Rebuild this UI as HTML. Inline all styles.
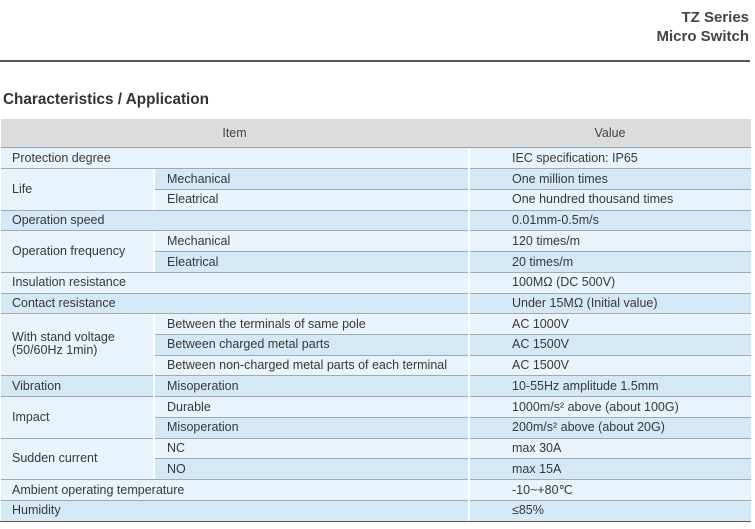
<!DOCTYPE html>
<html><head><meta charset="utf-8">
<style>
html,body{margin:0;padding:0;background:#fff;}
body{width:755px;height:529px;position:relative;overflow:hidden;font-family:"Liberation Sans",sans-serif;color:#3a3a3a;}
.a{position:absolute;}
.t{position:absolute;font-size:12.5px;white-space:nowrap;height:20.72px;line-height:20.72px;color:#383838;}
.L{background:#e9f3fb;}
.B{background:#d4e8f6;}
.h{position:absolute;height:1px;background:#9fabb4;}
.v{position:absolute;background:#ffffff;}
</style></head><body>
<div class="a" style="right:6px;top:10px;font-size:15px;font-weight:bold;color:#444;line-height:15px;text-align:right;">TZ Series</div>
<div class="a" style="right:6px;top:29px;font-size:15px;font-weight:bold;color:#444;line-height:15px;text-align:right;">Micro Switch</div>
<div class="a" style="left:0;top:60px;width:750px;height:1.6px;background:#555;"></div>
<div class="a" style="left:3px;top:91px;font-size:15.3px;font-weight:bold;color:#333;line-height:18px;white-space:nowrap;">Characteristics / Application</div>

<!-- header -->
<div class="a" style="left:1px;top:119px;width:750px;height:29px;background:#dcdcdc;"></div>
<div class="a" style="left:1px;top:147px;width:750px;height:1px;background:#a3a3a3;"></div>
<div class="a" style="left:1px;top:119px;width:467px;height:28px;line-height:28px;text-align:center;font-size:12.5px;color:#444;">Item</div>
<div class="a" style="left:469px;top:119px;width:282px;height:28px;line-height:28px;text-align:center;font-size:12.5px;color:#444;">Value</div>

<!-- row backgrounds -->
<div class="a L" style="left:1px;top:148px;width:750px;height:20.72px"></div>
<div class="a B" style="left:1px;top:168.72px;width:750px;height:20.72px"></div>
<div class="a L" style="left:1px;top:189.44px;width:750px;height:20.72px"></div>
<div class="a B" style="left:1px;top:210.16px;width:750px;height:20.72px"></div>
<div class="a L" style="left:1px;top:230.88px;width:750px;height:20.72px"></div>
<div class="a B" style="left:1px;top:251.6px;width:750px;height:20.72px"></div>
<div class="a L" style="left:1px;top:272.32px;width:750px;height:20.72px"></div>
<div class="a B" style="left:1px;top:293.04px;width:750px;height:20.72px"></div>
<div class="a L" style="left:1px;top:313.76px;width:750px;height:20.72px"></div>
<div class="a B" style="left:1px;top:334.48px;width:750px;height:20.72px"></div>
<div class="a L" style="left:1px;top:355.2px;width:750px;height:20.72px"></div>
<div class="a B" style="left:1px;top:375.92px;width:750px;height:20.72px"></div>
<div class="a L" style="left:1px;top:396.64px;width:750px;height:20.72px"></div>
<div class="a B" style="left:1px;top:417.36px;width:750px;height:20.72px"></div>
<div class="a L" style="left:1px;top:438.08px;width:750px;height:20.72px"></div>
<div class="a B" style="left:1px;top:458.8px;width:750px;height:20.72px"></div>
<div class="a L" style="left:1px;top:479.52px;width:750px;height:20.72px"></div>
<div class="a B" style="left:1px;top:500.24px;width:750px;height:20.72px"></div>

<!-- merged cells (light) -->
<div class="a L" style="left:1px;top:168.72px;width:152px;height:41.44px"></div>
<div class="a L" style="left:1px;top:230.88px;width:152px;height:41.44px"></div>
<div class="a L" style="left:1px;top:313.76px;width:152px;height:62.16px"></div>
<div class="a L" style="left:1px;top:396.64px;width:152px;height:41.44px"></div>
<div class="a L" style="left:1px;top:438.08px;width:152px;height:41.44px"></div>

<!-- horizontal lines -->
<div class="h" style="left:1px;width:750px;top:168.2px"></div>
<div class="h" style="left:154px;width:597px;top:188.9px"></div>
<div class="h" style="left:1px;width:750px;top:209.6px"></div>
<div class="h" style="left:1px;width:750px;top:230.4px"></div>
<div class="h" style="left:154px;width:597px;top:251.1px"></div>
<div class="h" style="left:1px;width:750px;top:271.8px"></div>
<div class="h" style="left:1px;width:750px;top:292.5px"></div>
<div class="h" style="left:1px;width:750px;top:313.3px"></div>
<div class="h" style="left:154px;width:597px;top:334px"></div>
<div class="h" style="left:154px;width:597px;top:354.7px"></div>
<div class="h" style="left:1px;width:750px;top:375.4px"></div>
<div class="h" style="left:1px;width:750px;top:396.1px"></div>
<div class="h" style="left:154px;width:597px;top:416.9px"></div>
<div class="h" style="left:1px;width:750px;top:437.6px"></div>
<div class="h" style="left:154px;width:597px;top:458.3px"></div>
<div class="h" style="left:1px;width:750px;top:479px"></div>
<div class="h" style="left:1px;width:750px;top:499.7px"></div>

<!-- vertical white lines -->
<div class="v" style="left:468px;top:148px;width:2px;height:373px"></div>
<div class="v" style="left:153px;top:169px;width:1.5px;height:41px"></div>
<div class="v" style="left:153px;top:231px;width:1.5px;height:41px"></div>
<div class="v" style="left:153px;top:314px;width:1.5px;height:165px"></div>

<!-- bottom border -->
<div class="a" style="left:0;top:520.5px;width:751px;height:1.6px;background:#555;"></div>

<!-- left column text -->
<div class="t" style="left:12px;top:148px">Protection degree</div>
<div class="t" style="left:12px;top:179.08px">Life</div>
<div class="t" style="left:12px;top:210.16px">Operation speed</div>
<div class="t" style="left:12px;top:241.24px">Operation frequency</div>
<div class="t" style="left:12px;top:272.32px">Insulation resistance</div>
<div class="t" style="left:12px;top:293.04px">Contact resistance</div>
<div class="a" style="left:12px;top:331px;font-size:12.5px;line-height:13px;white-space:nowrap;color:#383838;">With stand voltage<br>(50/60Hz 1min)</div>
<div class="t" style="left:12px;top:375.92px">Vibration</div>
<div class="t" style="left:12px;top:407px">Impact</div>
<div class="t" style="left:12px;top:448.44px">Sudden current</div>
<div class="t" style="left:12px;top:479.52px">Ambient operating temperature</div>
<div class="t" style="left:12px;top:500.24px">Humidity</div>

<!-- sub column text -->
<div class="t" style="left:167px;top:168.72px">Mechanical</div>
<div class="t" style="left:167px;top:189.44px">Eleatrical</div>
<div class="t" style="left:167px;top:230.88px">Mechanical</div>
<div class="t" style="left:167px;top:251.6px">Eleatrical</div>
<div class="t" style="left:167px;top:313.76px">Between the terminals of same pole</div>
<div class="t" style="left:167px;top:334.48px">Between charged metal parts</div>
<div class="t" style="left:167px;top:355.2px">Between non-charged metal parts of each terminal</div>
<div class="t" style="left:167px;top:375.92px">Misoperation</div>
<div class="t" style="left:167px;top:396.64px">Durable</div>
<div class="t" style="left:167px;top:417.36px">Misoperation</div>
<div class="t" style="left:167px;top:438.08px">NC</div>
<div class="t" style="left:167px;top:458.8px">NO</div>

<!-- value text -->
<div class="t" style="left:512px;top:148px">IEC specification: IP65</div>
<div class="t" style="left:512px;top:168.72px">One million times</div>
<div class="t" style="left:512px;top:189.44px">One hundred thousand times</div>
<div class="t" style="left:512px;top:210.16px">0.01mm-0.5m/s</div>
<div class="t" style="left:512px;top:230.88px">120 times/m</div>
<div class="t" style="left:512px;top:251.6px">20 times/m</div>
<div class="t" style="left:512px;top:272.32px">100MΩ (DC 500V)</div>
<div class="t" style="left:512px;top:293.04px">Under 15MΩ (Initial value)</div>
<div class="t" style="left:512px;top:313.76px">AC 1000V</div>
<div class="t" style="left:512px;top:334.48px">AC 1500V</div>
<div class="t" style="left:512px;top:355.2px">AC 1500V</div>
<div class="t" style="left:512px;top:375.92px">10-55Hz amplitude 1.5mm</div>
<div class="t" style="left:512px;top:396.64px">1000m/s² above (about 100G)</div>
<div class="t" style="left:512px;top:417.36px">200m/s² above (about 20G)</div>
<div class="t" style="left:512px;top:438.08px">max 30A</div>
<div class="t" style="left:512px;top:458.8px">max 15A</div>
<div class="t" style="left:512px;top:479.52px">-10~+80℃</div>
<div class="t" style="left:512px;top:500.24px">≤85%</div>
</body></html>
